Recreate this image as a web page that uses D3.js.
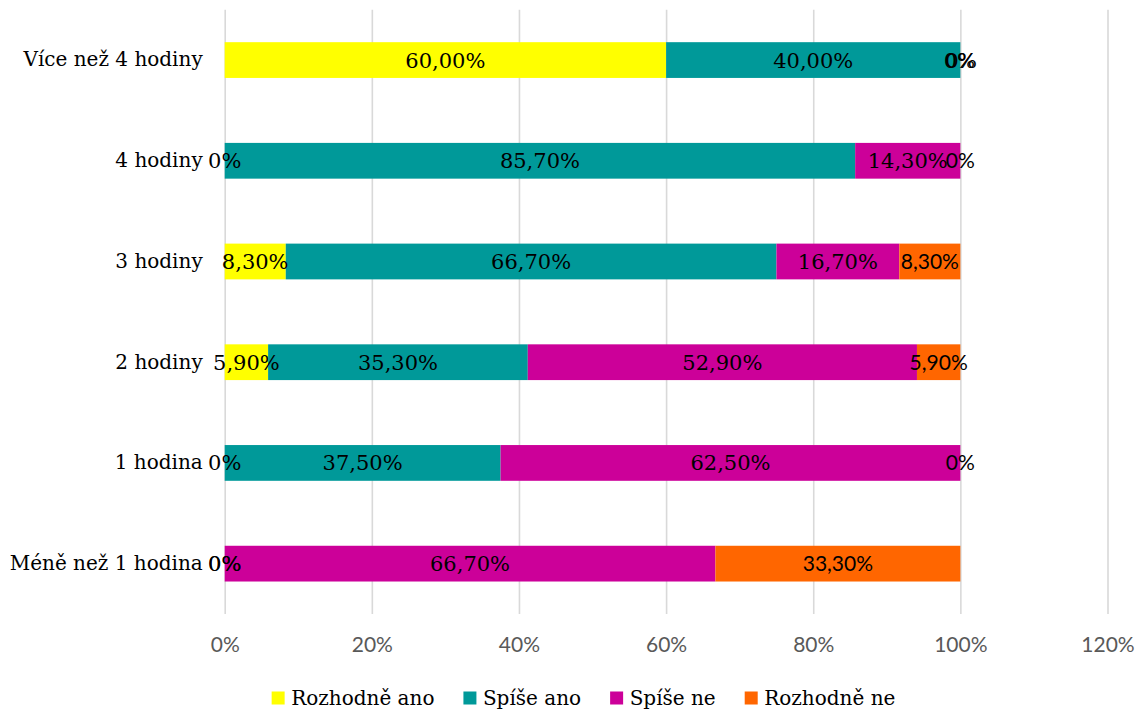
<!DOCTYPE html>
<html>
<head>
<meta charset="utf-8">
<script src="https://cdn.jsdelivr.net/npm/d3@7"></script>
<style>
  html, body { margin: 0; padding: 0; background: #fff; }
  svg { display: block; }
</style>
</head>
<body>
<svg id="chart" width="1146" height="713"></svg>
<script>
// ---- data ----
const categories = ["Více než 4 hodiny", "4 hodiny", "3 hodiny", "2 hodiny", "1 hodina", "Méně než 1 hodina"];
const seriesNames = ["Rozhodně ano", "Spíše ano", "Spíše ne", "Rozhodně ne"];
const rozhodneAno = [0.60, 0.00, 0.083, 0.059, 0.00, 0.00];
const spiseAno    = [0.40, 0.857, 0.667, 0.353, 0.375, 0.00];
const spiseNe     = [0.00, 0.143, 0.167, 0.529, 0.625, 0.667];
const rozhodneNe  = [0.00, 0.00, 0.083, 0.059, 0.00, 0.333];
const labelTexts = [
  ["60,00%", "0%", "8,30%", "5,90%", "0%", "0%"],
  ["40,00%", "85,70%", "66,70%", "35,30%", "37,50%", "0%"],
  ["0%", "14,30%", "16,70%", "52,90%", "62,50%", "66,70%"],
  ["0%", "0%", "8,30%", "5,90%", "0%", "33,30%"]
];
const tickValues = [0, 0.2, 0.4, 0.6, 0.8, 1.0, 1.2];
const colors = ["#FFFF00", "#009999", "#CC0099", "#FF6600"];

// ---- build table ----
const seriesValues = [rozhodneAno, spiseAno, spiseNe, rozhodneNe];
const table = categories.map((c, i) => {
  const row = { cat: c };
  seriesNames.forEach((s, j) => row[s] = seriesValues[j][i]);
  return row;
});
const stacked = d3.stack().keys(seriesNames)(table);

const serif = "'DejaVu Serif', serif";
const sans = "'Lato', 'Liberation Sans', sans-serif";

const svg = d3.select("#chart");
const x = d3.scaleLinear().domain([0, 1.2]).range([224.7, 1107.5]);
const y = d3.scaleBand().domain(categories).range([9.7, 614]).paddingInner(0.645).paddingOuter(0.3225);

// gridlines
const grid = svg.append("g").attr("transform", "translate(0,614)")
  .call(d3.axisBottom(x).tickValues(tickValues).tickSize(-(614 - 9.7)).tickFormat(""));
grid.select(".domain").remove();
grid.selectAll("line").attr("stroke", "#d9d9d9").attr("stroke-width", 1.6);

// bars
const layers = svg.append("g").selectAll("g").data(stacked).join("g")
  .attr("fill", (d, i) => colors[i]);
layers.selectAll("rect").data(d => d).join("rect")
  .attr("x", d => x(d[0]))
  .attr("width", d => x(d[1]) - x(d[0]))
  .attr("y", d => y(d.data.cat))
  .attr("height", y.bandwidth());

// data labels
stacked.forEach((layer, si) => {
  svg.append("g").selectAll("text").data(layer).join("text")
    .attr("x", d => x((d[0] + d[1]) / 2))
    .attr("y", d => y(d.data.cat) + y.bandwidth() / 2)
    .attr("dy", "0.36em")
    .attr("text-anchor", "middle")
    .style("font-family", si === 3 ? sans : serif)
    .style("font-size", si === 3 ? "21px" : "21px")
    .attr("fill", "#000")
    .text((d, i) => labelTexts[si][i]);
});

// x axis labels
const xAxis = svg.append("g").attr("transform", "translate(0,637)")
  .call(d3.axisBottom(x).tickValues(tickValues).tickSize(0).tickPadding(0).tickFormat(d3.format(".0%")));
xAxis.select(".domain").remove();
xAxis.selectAll("text").attr("fill", "#595959").attr("dy", "0.71em")
  .style("font-family", sans).style("font-size", "21px");

// y axis labels
const yAxis = svg.append("g").attr("transform", "translate(224.7,0)")
  .call(d3.axisLeft(y).tickSize(0).tickPadding(22));
yAxis.select(".domain").remove();
yAxis.selectAll("text").attr("fill", "#000")
  .style("font-family", serif).style("font-size", "20px");

// legend
const legend = svg.append("g");
let lx = 0;
const items = seriesNames.map((s, i) => {
  const g = legend.append("g");
  g.append("rect").attr("width", 13).attr("height", 13).attr("y", -6.5).attr("fill", colors[i]);
  const t = g.append("text").attr("x", 19.5).attr("dy", "0.36em")
    .style("font-family", serif).style("font-size", "20px").attr("fill", "#000").text(s);
  const w = 19.5 + t.node().getComputedTextLength();
  g.attr("transform", `translate(${lx},0)`);
  lx += w + 29;
  return g;
});
const totalW = lx - 29;
legend.attr("transform", `translate(${583.5 - totalW / 2},698)`);
</script>
</body>
</html>
